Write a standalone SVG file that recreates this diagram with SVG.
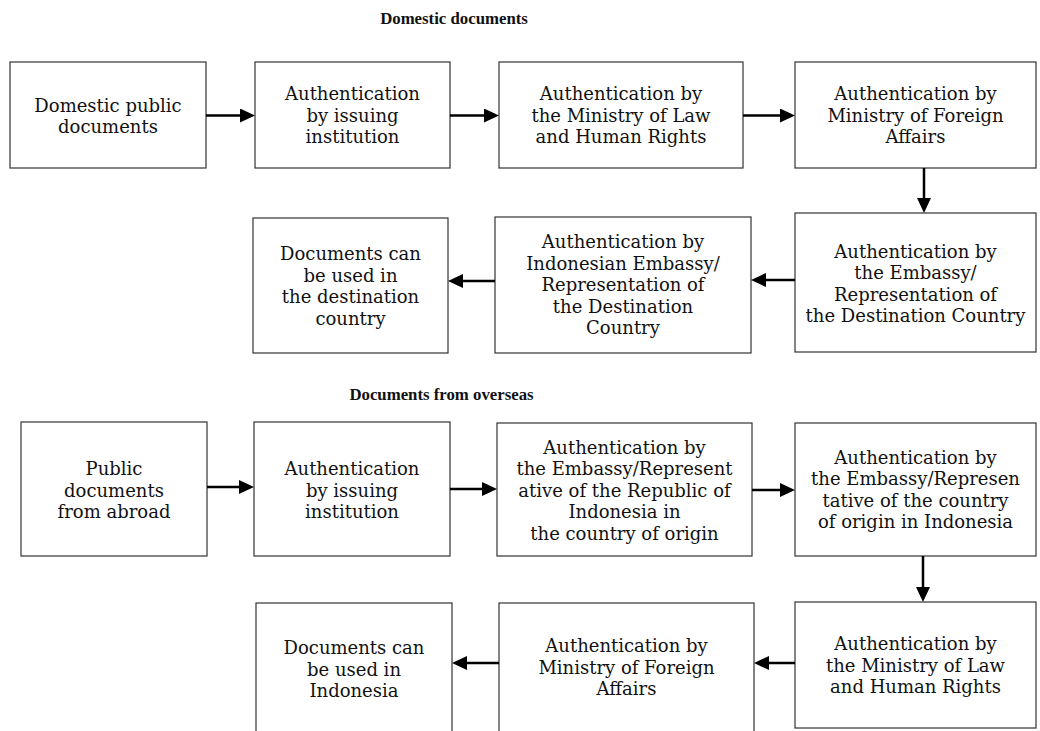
<svg xmlns="http://www.w3.org/2000/svg" width="1040" height="731" viewBox="0 0 1040 731">
<style>
.box{fill:#fff;stroke:#333;stroke-width:1.2}
.t{font-family:"DejaVu Serif","Liberation Serif",serif;font-size:18px;fill:#111;text-anchor:middle}
.h{font-family:"Liberation Serif","DejaVu Serif",serif;font-size:16.8px;font-weight:bold;fill:#111;text-anchor:middle}
.c{stroke:#000;stroke-width:2.5;fill:none;marker-end:url(#ah)}
</style>
<defs>
<marker id="ah" markerUnits="userSpaceOnUse" markerWidth="15" markerHeight="14" refX="7" refY="7" orient="auto">
<path d="M0,0 L15,7 L0,14 z" fill="#000"/>
</marker>
</defs>
<rect width="1040" height="731" fill="#fff"/>
<text class="h" x="454" y="23.5">Domestic documents</text>
<text class="h" x="441.5" y="400">Documents from overseas</text>

<g id="n1"><rect class="box" x="10" y="62" width="196" height="106"/>
<text class="t" x="108" y="111.5"><tspan x="108">Domestic public</tspan><tspan x="108" dy="21.5">documents</tspan></text></g>
<g id="n2"><rect class="box" x="255" y="62" width="195" height="106"/>
<text class="t" x="352.5" y="100"><tspan x="352.5">Authentication</tspan><tspan x="352.5" dy="21.5">by issuing</tspan><tspan x="352.5" dy="21.5">institution</tspan></text></g>
<g id="n3"><rect class="box" x="499" y="62" width="244" height="106"/>
<text class="t" x="621" y="100"><tspan x="621">Authentication by</tspan><tspan x="621" dy="21.5">the Ministry of Law</tspan><tspan x="621" dy="21.5">and Human Rights</tspan></text></g>
<g id="n4"><rect class="box" x="795" y="62" width="241" height="106"/>
<text class="t" x="915.5" y="100"><tspan x="915.5">Authentication by</tspan><tspan x="915.5" dy="21.5">Ministry of Foreign</tspan><tspan x="915.5" dy="21.5">Affairs</tspan></text></g>
<g id="n5"><rect class="box" x="795" y="213" width="241" height="139"/>
<text class="t" x="915.5" y="257.5"><tspan x="915.5">Authentication by</tspan><tspan x="915.5" dy="21.5">the Embassy/</tspan><tspan x="915.5" dy="21.5">Representation of</tspan><tspan x="915.5" dy="21.5">the Destination Country</tspan></text></g>
<g id="n6"><rect class="box" x="495" y="217" width="256" height="136"/>
<text class="t" x="623" y="248"><tspan x="623">Authentication by</tspan><tspan x="623" dy="21.5">Indonesian Embassy/</tspan><tspan x="623" dy="21.5">Representation of</tspan><tspan x="623" dy="21.5">the Destination</tspan><tspan x="623" dy="21.5">Country</tspan></text></g>
<g id="n7"><rect class="box" x="253" y="218" width="195" height="135"/>
<text class="t" x="350.5" y="260"><tspan x="350.5">Documents can</tspan><tspan x="350.5" dy="21.5">be used in</tspan><tspan x="350.5" dy="21.5">the destination</tspan><tspan x="350.5" dy="21.5">country</tspan></text></g>

<g id="m1"><rect class="box" x="21" y="422" width="186" height="134"/>
<text class="t" x="114" y="475"><tspan x="114">Public</tspan><tspan x="114" dy="21.5">documents</tspan><tspan x="114" dy="21.5">from abroad</tspan></text></g>
<g id="m2"><rect class="box" x="254" y="422" width="196" height="134"/>
<text class="t" x="352" y="475"><tspan x="352">Authentication</tspan><tspan x="352" dy="21.5">by issuing</tspan><tspan x="352" dy="21.5">institution</tspan></text></g>
<g id="m3"><rect class="box" x="497" y="423" width="255" height="133"/>
<text class="t" x="624.5" y="453.5"><tspan x="624.5">Authentication by</tspan><tspan x="624.5" dy="21.5">the Embassy/Represent</tspan><tspan x="624.5" dy="21.5">ative of the Republic of</tspan><tspan x="624.5" dy="21.5">Indonesia in</tspan><tspan x="624.5" dy="21.5">the country of origin</tspan></text></g>
<g id="m4"><rect class="box" x="795" y="423" width="241" height="133"/>
<text class="t" x="915.5" y="463.5"><tspan x="915.5">Authentication by</tspan><tspan x="915.5" dy="21.5">the Embassy/Represen</tspan><tspan x="915.5" dy="21.5">tative of the country</tspan><tspan x="915.5" dy="21.5">of origin in Indonesia</tspan></text></g>
<g id="m5"><rect class="box" x="795" y="602" width="241" height="126"/>
<text class="t" x="915.5" y="650"><tspan x="915.5">Authentication by</tspan><tspan x="915.5" dy="21.5">the Ministry of Law</tspan><tspan x="915.5" dy="21.5">and Human Rights</tspan></text></g>
<g id="m6"><rect class="box" x="499" y="603" width="255" height="130"/>
<text class="t" x="626.5" y="652"><tspan x="626.5">Authentication by</tspan><tspan x="626.5" dy="21.5">Ministry of Foreign</tspan><tspan x="626.5" dy="21.5">Affairs</tspan></text></g>
<g id="m7"><rect class="box" x="256" y="603" width="196" height="130"/>
<text class="t" x="354" y="654"><tspan x="354">Documents can</tspan><tspan x="354" dy="21.5">be used in</tspan><tspan x="354" dy="21.5">Indonesia</tspan></text></g>

<g id="connectors">
<line class="c" x1="206" y1="115.5" x2="247" y2="115.5"/>
<line class="c" x1="450" y1="115.5" x2="491" y2="115.5"/>
<line class="c" x1="743" y1="115.5" x2="787" y2="115.5"/>
<line class="c" x1="924" y1="168" x2="924" y2="205"/>
<line class="c" x1="795" y1="280" x2="759" y2="280"/>
<line class="c" x1="495" y1="281" x2="456" y2="281"/>
<line class="c" x1="207" y1="487" x2="246" y2="487"/>
<line class="c" x1="450" y1="489" x2="489" y2="489"/>
<line class="c" x1="752" y1="490" x2="787" y2="490"/>
<line class="c" x1="923" y1="556" x2="923" y2="594"/>
<line class="c" x1="795" y1="663" x2="762" y2="663"/>
<line class="c" x1="499" y1="663" x2="460" y2="663"/>
</g>
</svg>
